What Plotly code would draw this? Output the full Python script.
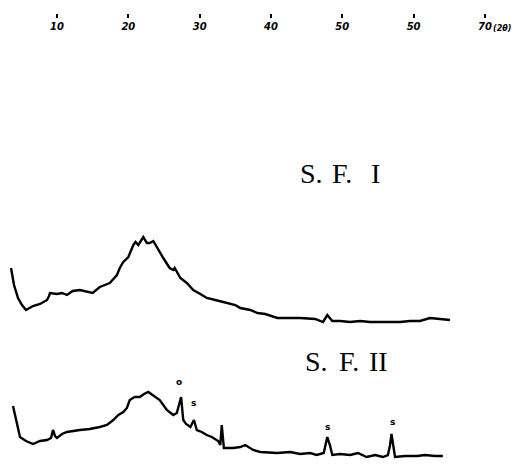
import plotly.graph_objects as go

# 2-theta positions (degrees) and intensities (arbitrary units) of pattern S.F. I
two_theta_1 = [3.55, 3.97, 4.53, 5.09, 5.65, 6.21, 6.63, 7.62, 8.60, 8.88, 9.02, 10.0, 10.7, 11.4,
               12.2, 13.2, 14.2, 15.0, 16.0, 16.7, 17.4, 18.4, 18.8, 19.3, 20.0, 20.7, 21.0, 21.4,
               22.1, 22.6, 23.0, 23.5, 24.2, 24.9, 25.8, 26.3, 26.5, 27.3, 28.2, 29.1, 30.1, 31.0,
               32.2, 33.8, 35.0, 35.7, 37.1, 38.1, 39.2, 40.9, 42.7, 44.1, 46.2, 47.3, 47.9, 48.6,
               49.7, 51.1, 52.5, 53.9, 55.7, 58.1, 59.5, 60.9, 62.3, 63.7, 65.1]
intensity_1 = [62, 45, 32, 25, 20, 22, 24, 26, 30, 34, 37, 36, 37, 35,
               39, 40, 38, 37, 43, 45, 47, 55, 62, 68, 73, 85, 88, 85,
               93, 87, 87, 89, 80, 72, 62, 60, 62, 52, 47, 40, 36, 32,
               30, 27, 25, 22, 20, 17, 16, 12, 12, 12, 11, 8, 15, 9,
               9, 8, 9, 8, 8, 8, 9, 9, 12, 11, 10]

# 2-theta positions (degrees) and intensities (arbitrary units) of pattern S.F. II
two_theta_2 = [3.83, 4.25, 4.81, 5.65, 6.63, 7.62, 8.60, 9.16, 9.44, 9.72, 10.0, 10.7, 11.4, 13.2,
               14.6, 16.0, 17.0, 17.9, 18.6, 19.3, 19.8, 20.2, 20.9, 21.6, 22.2, 22.8, 23.7, 24.4,
               25.4, 26.3, 26.8, 27.1, 27.4, 27.7, 28.1, 28.7, 29.2, 29.6, 30.3, 31.0, 31.7, 32.6,
               32.9, 33.1, 33.4, 34.7, 35.7, 36.4, 37.5, 38.5, 40.9, 42.7, 44.1, 45.5, 46.4, 47.4,
               47.7, 47.9, 48.3, 48.6, 49.7, 51.1, 52.2, 53.4, 54.6, 55.7, 56.4, 56.7, 56.9, 57.1,
               57.4, 58.8, 60.5, 61.6, 63.0, 64.1]
intensity_2 = [59, 45, 28, 24, 21, 24, 25, 27, 35, 29, 27, 31, 33, 35,
               36, 38, 40, 45, 50, 53, 57, 65, 68, 68, 71, 73, 69, 65,
               55, 50, 52, 60, 68, 45, 41, 38, 45, 35, 33, 30, 28, 24,
               20, 40, 17, 17, 18, 20, 15, 13, 12, 13, 11, 12, 10, 12,
               20, 28, 19, 10, 11, 10, 12, 8, 10, 8, 10, 20, 31, 20,
               8, 9, 9, 10, 9, 9]

# vertical offsets that stack the two patterns
offset_1 = 134
offset_2 = -1

tick_vals = [10, 20, 30, 40, 50, 60, 70]
tick_text = ["10", "20", "30", "40", "50", "50", "70"]

# phase markers: (2theta, height above the pattern baseline, text)
phase_marks = [(27.1, 83, "o"), (29.1, 62, "s"), (47.9, 38, "s"), (57.0, 43, "s")]

# sample titles, written piece by piece: (2theta of left edge, height, text)
title_1 = [(43.8, 291, "S."), (48.3, 291, "F."), (53.7, 291, "I")]
title_2 = [(44.5, 103, "S."), (49.2, 103, "F."), (53.4, 103, "II")]

fig = go.Figure()
fig.add_trace(go.Scatter(x=two_theta_1, y=[v + offset_1 for v in intensity_1], mode="lines",
                         line=dict(color="black", width=2.4), hoverinfo="skip"))
fig.add_trace(go.Scatter(x=two_theta_2, y=[v + offset_2 for v in intensity_2], mode="lines",
                         line=dict(color="black", width=2.4), hoverinfo="skip"))

for x, h, t in phase_marks:
    fig.add_annotation(x=x, y=h + offset_2, text="<b>" + t + "</b>", showarrow=False,
                       font=dict(family="DejaVu Sans", size=9, color="black"))

for x, y, t in title_1 + title_2:
    fig.add_annotation(x=x, y=y, text=t, showarrow=False, xanchor="left",
                       font=dict(family="Liberation Serif", size=28, color="black"))

fig.add_annotation(x=70.8, y=436, text="<i><b>(2θ)</b></i>", showarrow=False, xanchor="left",
                   font=dict(family="DejaVu Sans", size=8, color="black"))

fig.update_layout(
    width=517, height=464,
    margin=dict(l=0, r=0, t=0, b=0),
    paper_bgcolor="white", plot_bgcolor="white",
    showlegend=False,
    xaxis=dict(range=[2.006, 74.5], tickmode="array", tickvals=tick_vals, ticktext=tick_text,
               anchor="free", position=0.972, side="bottom", ticks="outside", ticklen=4,
               tickwidth=1.5, tickcolor="black", showline=False, showgrid=False, zeroline=False,
               tickfont=dict(family="DejaVu Sans", size=10, color="black", style="italic",
                             weight="bold")),
    yaxis=dict(range=[0, 464], visible=False, showgrid=False, zeroline=False),
)

fig.write_html("out.html")
